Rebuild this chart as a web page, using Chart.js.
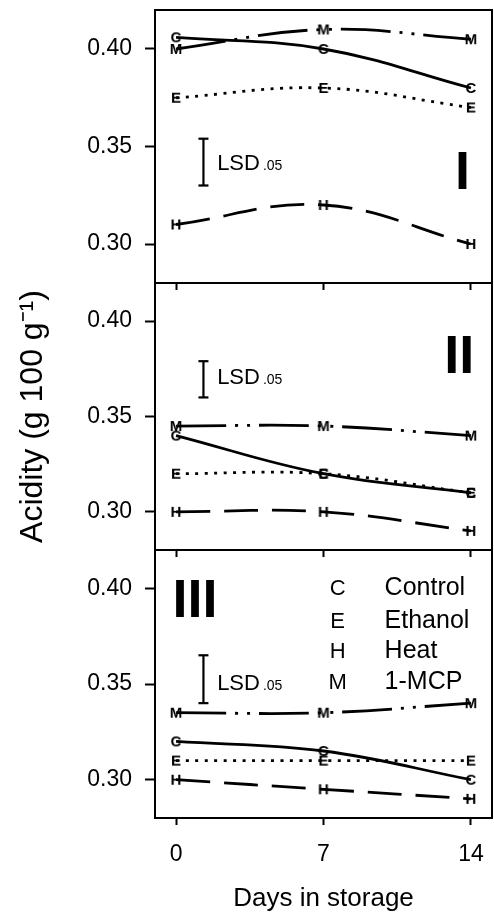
<!DOCTYPE html>
<html><head><meta charset="utf-8">
<script src="https://cdn.jsdelivr.net/npm/chart.js@4"></script>
<style>
html,body{margin:0;padding:0;background:#fff;}
#wrap{position:relative;width:494px;height:918px;overflow:hidden;background:#fff;}
canvas{position:absolute;left:0;}
</style></head><body>
<div id="wrap">
<canvas id="c1" width="494" height="300" style="top:0px"></canvas>
<canvas id="c2" width="494" height="294" style="top:273px"></canvas>
<canvas id="c3" width="494" height="378" style="top:540px"></canvas>
</div>
<script>
// ---------- data ----------
const days = [0, 7, 14];
const xTicks = [0, 7, 14];
const yTicks = [0.30, 0.35, 0.40];
const panelNames = ['I', 'II', 'III'];
const seriesNames = ['Control', 'Ethanol', 'Heat', '1-MCP'];
const seriesLetters = ['C', 'E', 'H', 'M'];

const controlI  = [0.406, 0.400, 0.380];
const ethanolI  = [0.375, 0.380, 0.370];
const heatI     = [0.310, 0.320, 0.300];
const mcpI      = [0.400, 0.410, 0.405];

const controlII = [0.340, 0.320, 0.310];
const ethanolII = [0.320, 0.320, 0.310];
const heatII    = [0.300, 0.300, 0.290];
const mcpII     = [0.345, 0.345, 0.340];

const controlIII = [0.320, 0.315, 0.300];
const ethanolIII = [0.310, 0.310, 0.310];
const heatIII    = [0.300, 0.295, 0.290];
const mcpIII     = [0.335, 0.335, 0.340];

const lsdLow  = [0.330, 0.360, 0.340];
const lsdHigh = [0.354, 0.379, 0.365];

// ---------- styling ----------
const FONT = '"Liberation Sans", Arial, Helvetica, sans-serif';
const dashes = [[], [3, 6.5], [34, 14], [50, 9, 3, 9, 3, 9]];
const LSD_X = 1.3;

function letterCanvas(ch){
  const c = document.createElement('canvas');
  c.width = 20; c.height = 20;
  const g = c.getContext('2d');
  g.font = 'bold 15px ' + FONT;
  g.fillStyle = '#000';
  g.textAlign = 'center';
  g.textBaseline = 'alphabetic';
  g.fillText(ch, 10, 10 + 0.358 * 15);
  return c;
}
const markers = seriesLetters.map(letterCanvas);

// annotation positions (data space)
const panelLabelPos = [{x:13.6, y:0.338}, {x:13.45, y:0.383}, {x:0.9, y:0.395}];
const lsdTextPos = [{x:1.95, y:0.342}, {x:1.95, y:0.371}, {x:1.95, y:0.351}];
const legendRowsY = [0.401, 0.384, 0.368, 0.352];

const annot = {
  id: 'annot',
  afterDraw(chart, args, opts){
    const {ctx, chartArea: a, scales: {x, y}} = chart;
    const k = opts.panel;
    ctx.save();
    ctx.strokeStyle = '#000';
    ctx.lineWidth = 2;
    ctx.strokeRect(a.left, a.top, a.right - a.left, a.bottom - a.top);
    ctx.fillStyle = '#000';
    // panel label
    const pl = panelLabelPos[k];
    ctx.font = 'bold 54px ' + FONT;
    ctx.textAlign = 'center';
    ctx.textBaseline = 'alphabetic';
    ctx.fillText(panelNames[k], x.getPixelForValue(pl.x), y.getPixelForValue(pl.y) + 0.358 * 54);
    // LSD text
    const lt = lsdTextPos[k];
    const lx = x.getPixelForValue(lt.x);
    const ly = y.getPixelForValue(lt.y) + 0.358 * 22;
    ctx.textAlign = 'left';
    ctx.font = '22px ' + FONT;
    ctx.fillText('LSD', lx, ly);
    const w = ctx.measureText('LSD').width;
    ctx.font = '14px ' + FONT;
    ctx.fillText('.05', lx + w + 3, ly);
    // legend (panel III)
    if (opts.legend){
      seriesNames.forEach((n, i) => {
        const py = y.getPixelForValue(legendRowsY[i]) + 0.358 * 24;
        ctx.font = '22px ' + FONT;
        ctx.textAlign = 'center';
        ctx.fillText(seriesLetters[i], x.getPixelForValue(7.67), py);
        ctx.font = '25px ' + FONT;
        ctx.textAlign = 'left';
        ctx.fillText(n, x.getPixelForValue(9.9), py);
      });
    }
    ctx.restore();
  }
};

function makeChart(id, k, vals){
  const isLast = k === 2, isMid = k === 1;
  const datasets = seriesNames.map((n, i) => ({
    label: n,
    data: days.map((d, j) => ({x: d, y: vals[i][j]})),
    borderColor: '#000',
    backgroundColor: '#000',
    borderWidth: 2.8,
    borderDash: dashes[i],
    tension: 0.4,
    pointStyle: markers[i],
    pointRadius: 8,
    pointHoverRadius: 8,
    fill: false
  }));
  datasets.push({
    label: 'LSD',
    data: [{x: LSD_X, y: lsdLow[k]}, {x: LSD_X, y: lsdHigh[k]}],
    borderColor: '#000',
    backgroundColor: '#000',
    borderWidth: 2.2,
    tension: 0,
    pointStyle: 'line',
    pointRadius: 5,
    pointHoverRadius: 5,
    pointBorderWidth: 2.2,
    pointBorderColor: '#000',
    fill: false
  });
  return new Chart(document.getElementById(id), {
    type: 'line',
    data: {datasets},
    options: {
      responsive: false,
      animation: false,
      devicePixelRatio: 1,
      layout: {autoPadding: false, padding: {top: 10, left: 0, right: 2, bottom: 0}},
      plugins: {legend: {display: false}, tooltip: {enabled: false}, annot: {panel: k, legend: isLast}},
      scales: {
        x: {
          type: 'linear', min: -1, max: 15,
          afterBuildTicks: s => { s.ticks = xTicks.map(v => ({value: v})); },
          afterFit: s => { s.height = isLast ? 100 : 17; s.paddingLeft = 0; s.paddingRight = 0; },
          grid: {drawOnChartArea: false, drawTicks: true, tickLength: 7, tickWidth: 2, tickColor: '#000'},
          border: {display: false},
          ticks: {display: isLast, color: '#000', font: {family: FONT, size: 23}, padding: 16, maxRotation: 0, autoSkip: false,
                  callback: v => String(v)},
          title: {display: isLast, text: 'Days in storage', color: '#000', font: {family: FONT, size: 26}, padding: {top: 0, bottom: 4}}
        },
        y: {
          min: 0.28, max: 0.42,
          afterBuildTicks: s => { s.ticks = yTicks.map(v => ({value: v})); },
          afterFit: s => { s.width = 155; s.paddingTop = 0; s.paddingBottom = 0; },
          grid: {drawOnChartArea: false, drawTicks: true, tickLength: 10, tickWidth: 2, tickColor: '#000'},
          border: {display: false},
          ticks: {color: '#000', font: {family: FONT, size: 23}, padding: 13, callback: v => Number(v).toFixed(2)},
          title: {display: isMid, text: 'Acidity (g 100 g\u207B\u00B9)', color: '#000', font: {family: FONT, size: 32}, padding: {top: 14, bottom: 0}}
        }
      }
    },
    plugins: [annot]
  });
}

makeChart('c1', 0, [controlI, ethanolI, heatI, mcpI]);
makeChart('c2', 1, [controlII, ethanolII, heatII, mcpII]);
makeChart('c3', 2, [controlIII, ethanolIII, heatIII, mcpIII]);
</script>
</body></html>
